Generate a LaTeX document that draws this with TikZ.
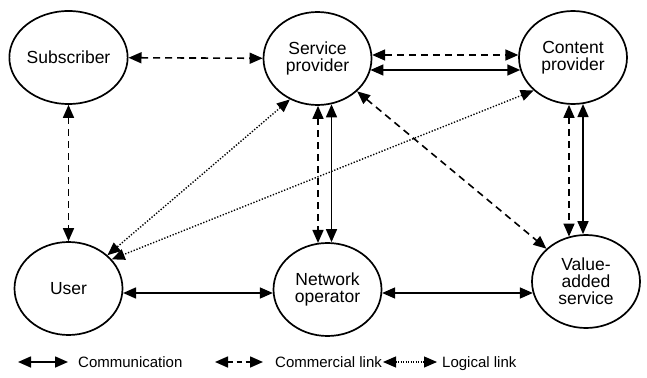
\documentclass[tikz,border=0pt]{standalone}
\usepackage{fontspec}
\setmainfont{Liberation Sans}
\usetikzlibrary{arrows.meta,calc,shapes.geometric}
\begin{document}
\begin{tikzpicture}[x=1pt,y=-1pt,
  ent/.style={draw,ellipse,line width=1.7pt,minimum width=108pt,minimum height=93pt,
    inner sep=0pt,align=center,font=\fontsize{17.5}{17}\selectfont},
  tip/.style={{Triangle[length=13pt,width=11pt]}-{Triangle[length=13pt,width=11pt]}},
  comm/.style={tip,line width=1.6pt},
  commercial/.style={tip,line width=1.6pt,dash pattern=on 7pt off 5pt},
  logical/.style={tip,line width=1.4pt,dash pattern=on 1.3pt off 1.7pt},
  legtext/.style={anchor=base west,inner sep=0pt,font=\fontsize{15}{15}\selectfont}]
\useasboundingbox (0,0) rectangle (647,377);
% entities
\node[ent] (sub)  at (68.5,57.5)  {Subscriber};
\node[ent] (sp)   at (317.5,58.5) {Service\\provider};
\node[ent] (cp)   at (573,57.5)   {Content\\provider};
\node[ent] (user) at (68.5,288.5) {User};
\node[ent] (no)   at (327.5,289.5){Network\\operator};
\node[ent] (vas)  at (586,281.5)  {Value-\\added\\service};
% connectors
\draw[commercial] (sub) -- (sp);
\draw[commercial] ($(sp.east)+(-0.2,-3.5)$) -- ($(cp.west)+(0.2,-2.5)$);
\draw[comm] ($(sp.east)+(-1.9,11.5)$) -- ($(cp.west)+(2.1,12.5)$);
\draw[commercial] (sub) -- (user);
\draw[commercial] ($(sp.south)+(0.5,0)$) -- ($(no.north)+(-9.5,0.8)$);
\draw[comm] ($(sp.south)+(14,-1.5)$) -- ($(no.north)+(4,0)$);
\draw[commercial] ($(cp.south)+(-4,0)$) -- ($(vas.north)+(-17,2.4)$);
\draw[comm] ($(cp.south)+(10,-0.8)$) -- ($(vas.north)+(-3,0)$);
\draw[comm] ($(user.east)+(-0.3,4.5)$) -- ($(no.west)+(0.2,3.5)$);
\draw[comm] ($(no.east)+(-0.2,3.5)$) -- ($(vas.west)+(1.7,11.5)$);
\draw[commercial] (sp) -- (vas);
\draw[logical] (sp.236) -- (user);
\draw[logical] (cp.220) -- (user.34);
% legend
\coordinate (l1a) at (18,362);  \coordinate (l1b) at (68,362);
\coordinate (l2a) at (215,362); \coordinate (l2b) at (263,362);
\coordinate (l3a) at (383,362); \coordinate (l3b) at (437,362);
\draw[comm] (l1a) -- (l1b);
\draw[tip,line width=1.6pt,dash pattern=on 5pt off 4pt] (l2a) -- (l2b);
\draw[logical,line width=1.1pt,dash pattern=on 1pt off 1.5pt] (l3a) -- (l3b);
\node[legtext] (t1) at (78,367.5)  {Communication};
\node[legtext] (t2) at (275,367.5) {Commercial link};
\node[legtext] (t3) at (442,367.5) {Logical link};
\end{tikzpicture}
\end{document}
